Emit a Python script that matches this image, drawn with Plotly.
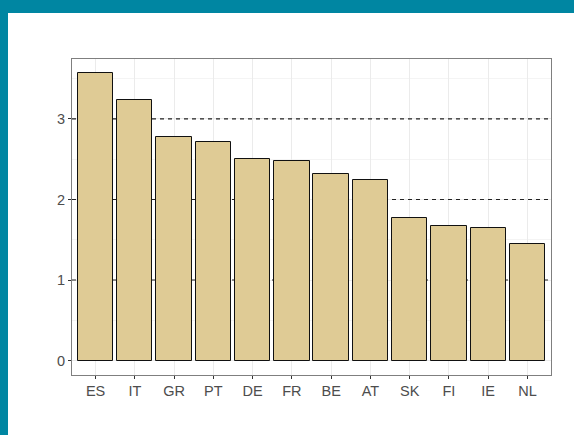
import plotly.graph_objects as go

countries = ["ES", "IT", "GR", "PT", "DE", "FR", "BE", "AT", "SK", "FI", "IE", "NL"]
values = [3.565, 3.237, 2.778, 2.708, 2.497, 2.472, 2.311, 2.236, 1.764, 1.668, 1.647, 1.448]
ref_lines = [1, 2, 3]
y_ticks = [0, 1, 2, 3]

W, H = 574, 435
L, R, T, B = 72, 23, 59, 60
pw, ph = W - L - R, H - T - B

def px_x(x):
    return (x - L) / pw

def px_y(y):
    return (H - B - y) / ph

teal = "#0086A2"
x_lo, x_hi = -0.6, 11.6
y_lo, y_hi = -0.178, 3.743

fig = go.Figure()
for v in ref_lines:
    fig.add_trace(go.Scatter(
        x=[x_lo, x_hi], y=[v, v], mode="lines", hoverinfo="skip",
        line=dict(color="#222222", width=1.1, dash="4px,4px"),
        xaxis="x", yaxis="y",
    ))
fig.add_trace(go.Bar(
    x=list(range(len(countries))), y=values, width=0.9,
    marker=dict(color="#DFCB95", line=dict(color="#111111", width=1)),
    hoverinfo="x+y", xaxis="x2", yaxis="y2",
))

shapes = [
    dict(type="rect", xref="paper", yref="paper", x0=px_x(0), x1=px_x(W), y0=px_y(13), y1=px_y(0),
         fillcolor=teal, line=dict(width=0), layer="above"),
    dict(type="rect", xref="paper", yref="paper", x0=px_x(0), x1=px_x(8), y0=px_y(H), y1=px_y(0),
         fillcolor=teal, line=dict(width=0), layer="above"),
]

fig.update_layout(
    width=W, height=H,
    margin=dict(l=L, r=R, t=T, b=B, pad=0),
    paper_bgcolor="white", plot_bgcolor="white",
    showlegend=False,
    font=dict(family="Liberation Sans, Arial, sans-serif", size=14.5, color="#4D4D4D"),
    shapes=shapes,
    bargap=0,
    xaxis=dict(
        range=[x_lo, x_hi], tickmode="array", tickvals=list(range(len(countries))), ticktext=countries,
        showgrid=True, gridcolor="#EBEBEB", gridwidth=1,
        showline=True, linecolor="#7F7F7F", linewidth=1, mirror=True,
        ticks="outside", ticklen=3, tickcolor="#333333", tickwidth=1,
        zeroline=False, fixedrange=True,
    ),
    yaxis=dict(
        range=[y_lo, y_hi], tickmode="array", tickvals=y_ticks,
        showgrid=True, gridcolor="#EBEBEB", gridwidth=1,
        minor=dict(tickmode="array", tickvals=[0.5, 1.5, 2.5, 3.5], showgrid=True, gridcolor="#F4F4F4", gridwidth=0.6, ticks=""),
        showline=True, linecolor="#7F7F7F", linewidth=1, mirror=True,
        ticks="outside", ticklen=3, tickcolor="#333333", tickwidth=1,
        zeroline=False, fixedrange=True,
    ),
    xaxis2=dict(range=[x_lo, x_hi], overlaying="x", visible=False, showgrid=False, zeroline=False, fixedrange=True),
    yaxis2=dict(range=[y_lo, y_hi], overlaying="y", visible=False, showgrid=False, zeroline=False, fixedrange=True),
)

fig.write_html("out.html", config={"displayModeBar": False},
               post_script="document.body.style.margin='0';document.body.style.overflow='hidden';")
